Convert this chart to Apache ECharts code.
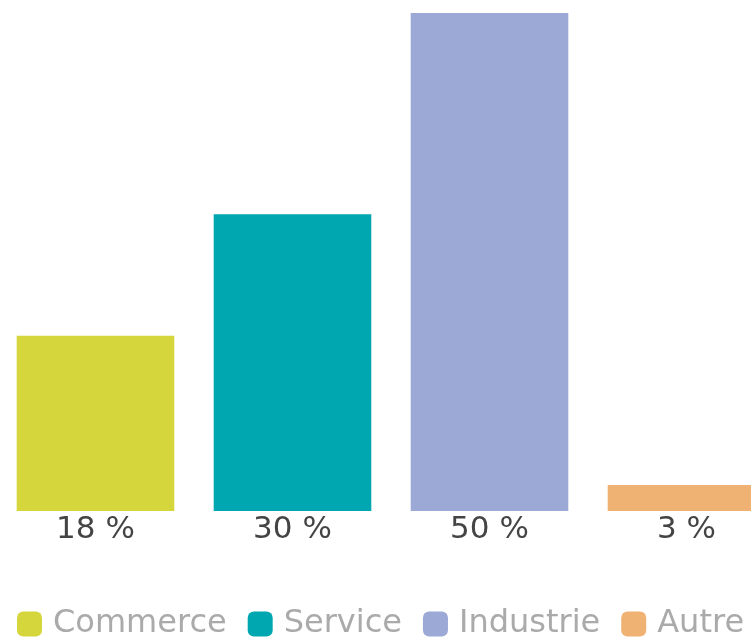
<!DOCTYPE html>
<html><head><meta charset="utf-8">
<script src="https://cdn.jsdelivr.net/npm/echarts@6/dist/echarts.min.js"></script>
<style>html,body{margin:0;padding:0;overflow:hidden;background:#fff;width:751px;height:637px;}
#c{position:absolute;left:-3px;top:0;width:788px;height:637px;}</style>
</head><body><div id="c"></div>
<script>
const categories = ['Commerce', 'Service', 'Industrie', 'Autre'];
const values = [17.6, 29.8, 50.0, 2.6];
const colors = ['#d5d63b', '#00a7b0', '#9ca8d6', '#efb273'];

const chart = echarts.init(document.getElementById('c'), null, {renderer: 'canvas'});
const font = 'DejaVu Sans';
const series = categories.map((name, i) => ({
  name: name,
  type: 'bar',
  stack: 'all',
  barWidth: '80%',
  itemStyle: {color: colors[i]},
  label: {
    show: true, position: 'bottom', distance: 3,
    fontFamily: font, fontSize: 31, color: '#444',
    formatter: p => Math.round(p.value) + ' %'
  },
  data: categories.map((c, j) => j === i ? values[i] : '-')
}));
chart.setOption({
  animation: false,
  grid: {left: 0, right: 0, top: 13, bottom: 126, containLabel: false},
  xAxis: {type: 'category', data: categories, show: false},
  yAxis: {type: 'value', min: 0, max: 50, show: false},
  legend: {
    left: 20, top: 608, itemWidth: 25, itemHeight: 25, itemGap: 21,
    icon: 'roundRect', padding: 0,
    textStyle: {fontFamily: font, fontSize: 32, color: '#aaa', padding: [0, 0, 0, 6]},
    data: categories
  },
  series: series
});
</script></body></html>
